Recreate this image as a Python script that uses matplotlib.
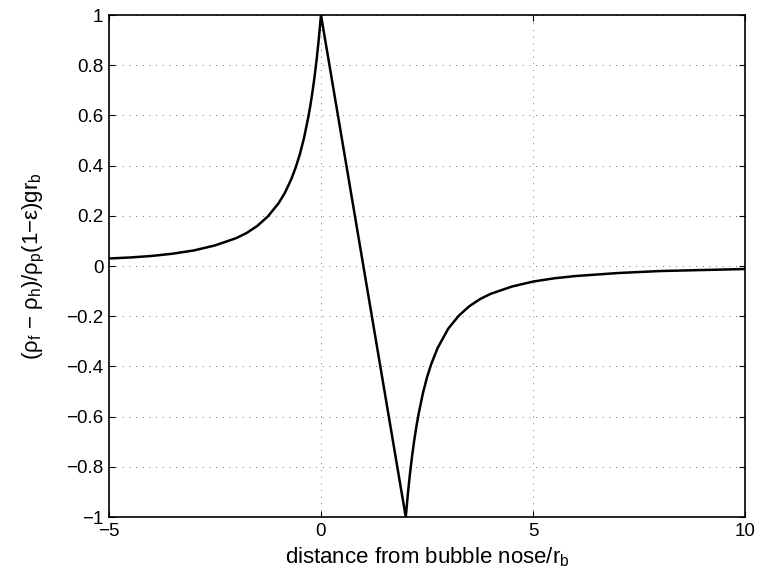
import numpy as np
import matplotlib
matplotlib.use("Agg")
import matplotlib.pyplot as plt

plt.rcParams['font.family'] = ['Liberation Sans', 'DejaVu Sans']
plt.rcParams['mathtext.fontset'] = 'custom'
plt.rcParams['mathtext.rm'] = 'Liberation Sans'
plt.rcParams['mathtext.it'] = 'Liberation Sans'
plt.rcParams['mathtext.bf'] = 'Liberation Sans:bold'

# valores: frente da bolha (x<0)
x_frente = [-5, -4.5, -4, -3.5, -3, -2.5, -2, -1.75, -1.5, -1.25, -1, -0.85,
            -0.7, -0.6, -0.5, -0.4, -0.3, -0.25, -0.2, -0.15, -0.1, -0.05, 0]
y_frente = [0.030, 0.034, 0.040, 0.049, 0.062, 0.082, 0.111, 0.132, 0.160,
            0.198, 0.250, 0.292, 0.346, 0.391, 0.444, 0.510, 0.592, 0.640,
            0.694, 0.756, 0.826, 0.907, 1.0]

# trecho reto entre o nariz e a cauda
x_meio = [0, 2]
y_meio = [1.0, -1.0]

# esteira (x>2)
x_esteira = [2, 2.05, 2.1, 2.15, 2.2, 2.25, 2.3, 2.4, 2.5, 2.6, 2.75, 3,
             3.25, 3.5, 3.75, 4, 4.5, 5, 5.5, 6, 7, 8, 9, 10]
y_esteira = [-1.0, -0.907, -0.826, -0.756, -0.694, -0.640, -0.592, -0.510,
             -0.444, -0.391, -0.327, -0.250, -0.198, -0.160, -0.132, -0.111,
             -0.082, -0.062, -0.049, -0.040, -0.028, -0.020, -0.016, -0.012]

x_ticks = [-5, 0, 5, 10]
y_ticks = [-1, -0.8, -0.6, -0.4, -0.2, 0, 0.2, 0.4, 0.6, 0.8, 1]
y_tick_labels = ['\u22121', '\u22120.8', '\u22120.6', '\u22120.4', '\u22120.2',
                 '0', '0.2', '0.4', '0.6', '0.8', '1']
x_tick_labels = ['\u22125', '0', '5', '10']

x = x_frente + x_meio[1:] + x_esteira[1:]
y = y_frente + y_meio[1:] + y_esteira[1:]

fig = plt.figure(figsize=(7.6, 5.84), dpi=100)
ax = fig.add_axes([0.1434, 0.1147, 0.8368, 0.8596])
ax.plot(x, y, color='black', linewidth=1.8, solid_joinstyle='miter')

ax.set_xlim(-5, 10)
ax.set_ylim(-1, 1)
ax.set_xticks(x_ticks)
ax.set_xticklabels(x_tick_labels)
ax.set_yticks(y_ticks)
ax.set_yticklabels(y_tick_labels)
ax.tick_params(direction='in', top=True, right=True, labelsize=13.5, length=4, width=0.8, pad=4)
ax.grid(True, linestyle=(0, (1, 7)), color='#444444', linewidth=0.6)
for s in ax.spines.values():
    s.set_linewidth(1.2)

ax.set_xlabel(r'distance from bubble nose/r$_\mathregular{b}$', fontsize=16, labelpad=4)
ax.set_ylabel(r'$(\rho_f\ {-}\ \rho_h)/\rho_p(1{-}\varepsilon)gr_b$', fontsize=16, labelpad=14)

fig.savefig('out.png', dpi=100)
